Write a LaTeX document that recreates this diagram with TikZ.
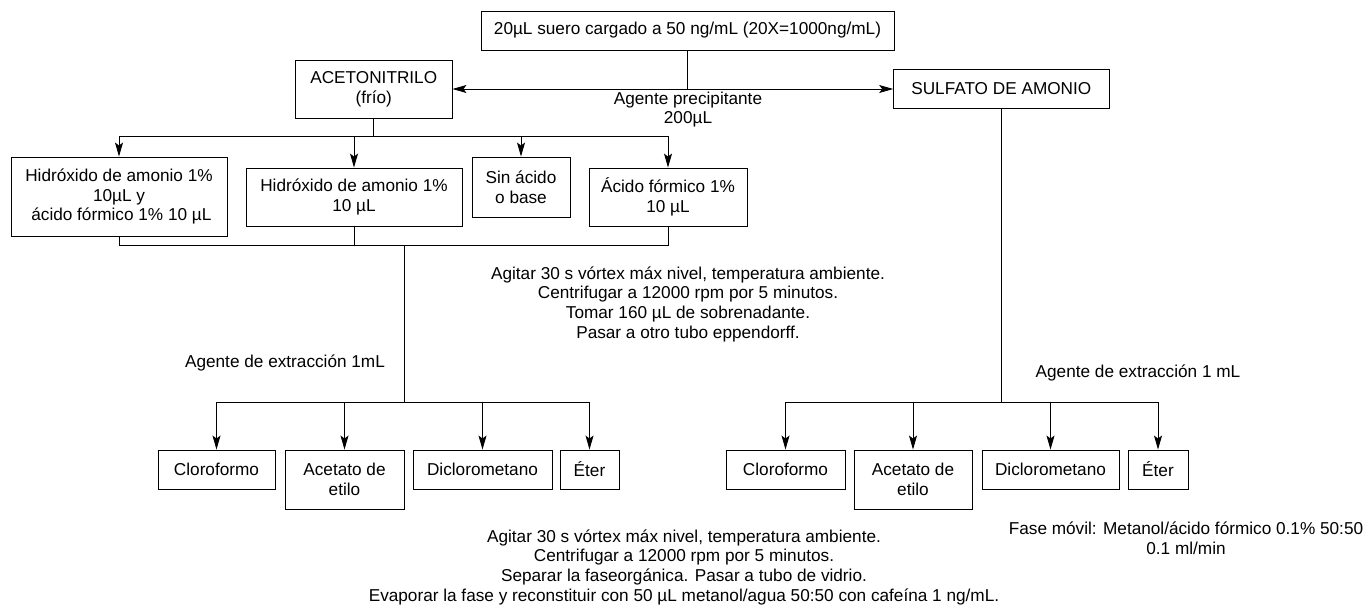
\documentclass[tikz,border=0pt]{standalone}
\usepackage{fontspec}
\setmainfont{Liberation Sans}
\usetikzlibrary{arrows.meta}
\begin{document}
\begin{tikzpicture}[x=1pt,y=-1pt,
  every node/.style={font=\fontsize{17.2}{19.7}\selectfont, inner sep=0pt, align=center},
  box/.style={draw, line width=0.9pt},
  conn/.style={line width=0.9pt},
  arr/.style={conn, -{Stealth[length=14pt,width=8pt,inset=3pt]}},
  darr/.style={conn, {Stealth[length=14pt,width=8pt,inset=3pt]}-{Stealth[length=14pt,width=8pt,inset=3pt]}}]
\useasboundingbox (0,0) rectangle (1368,605);

% top level
\node[box, minimum width=413, minimum height=39] (top) at (687.5,30.5) {20µL suero cargado a 50 ng/mL (20X=1000ng/mL)};
\node[box, minimum width=156.5, minimum height=58] (acn) at (373.75,89) {ACETONITRILO\\(frío)};
\node[box, minimum width=215.4, minimum height=39] (sulf) at (1001.3,89) {SULFATO DE AMONIO};
\node (prec) at (688,109.5) {Agente precipitante\\200µL};

\coordinate (t1) at (687.5,89);
\draw[conn] (top.south) -- (t1);
\draw[darr] (acn.east) -- (sulf.west);

% additive boxes
\node[box, minimum width=216, minimum height=79] (b1) at (119,196.5) {Hidróxido de amonio 1\%\\10µL y\\ \ ácido fórmico 1\% 10 µL};
\node[box, minimum width=216, minimum height=58] (b2) at (354,197) {Hidróxido de amonio 1\%\\10 µL};
\node[box, minimum width=98, minimum height=60] (b3) at (521,187) {Sin ácido\\o base};
\node[box, minimum width=158, minimum height=58] (b4) at (668,197) {Ácido fórmico 1\%\\10 µL};

\coordinate (j1) at (373.75,136);
\draw[conn] (acn.south) -- (j1);
\draw[conn] (b1.north |- j1) -- (b4.north |- j1);
\foreach \b in {b1,b2,b3,b4} \draw[arr] (\b.north |- j1) -- (\b.north);

\coordinate (m) at (404,245);
\draw[conn] (b1.south) -- (b1.south |- m) -- (b4.south |- m) -- (b4.south);
\draw[conn] (b2.south) -- (b2.south |- m);

\node (mid) at (688,304) {Agitar 30 s vórtex máx nivel, temperatura ambiente.\\Centrifugar a 12000 rpm por 5 minutos.\\Tomar 160 µL de sobrenadante.\\Pasar a otro tubo eppendorff.};

% left extraction
\node[box, minimum width=117, minimum height=39] (c1) at (216.5,469.5) {Cloroformo};
\node[box, minimum width=119, minimum height=59] (c2) at (344.5,479.5) {Acetato de\\etilo};
\node[box, minimum width=139, minimum height=39] (c3) at (482.5,469.5) {Diclorometano};
\node[box, minimum width=59, minimum height=39] (c4) at (589.5,469.5) {Éter};
\node (extL) at (285,363) {Agente de extracción 1mL};

\coordinate (j2) at (404,402);
\draw[conn] (m) -- (j2);
\draw[conn] (c1.north |- j2) -- (c4.north |- j2);
\foreach \c in {c1,c2,c3,c4} \draw[arr] (\c.north |- j2) -- (\c.north);

% right extraction
\node[box, minimum width=119, minimum height=39] (d1) at (785.5,469.5) {Cloroformo};
\node[box, minimum width=118, minimum height=59] (d2) at (913,479.5) {Acetato de\\etilo};
\node[box, minimum width=137, minimum height=39] (d3) at (1050.5,469.5) {Diclorometano};
\node[box, minimum width=60, minimum height=39] (d4) at (1158,469.5) {Éter};
\node (extR) at (1138,373) {Agente de extracción 1 mL};

\coordinate (j3) at (1001.3,402);
\draw[conn] (sulf.south) -- (j3);
\draw[conn] (d1.north |- j3) -- (d4.north |- j3);
\foreach \d in {d1,d2,d3,d4} \draw[arr] (\d.north |- j3) -- (\d.north);

% bottom texts
\node (bot) at (684,567) {Agitar 30 s vórtex máx nivel, temperatura ambiente.\\Centrifugar a 12000 rpm por 5 minutos.\\Separar la faseorgánica. Pasar a tubo de vidrio.\\Evaporar la fase y reconstituir con 50 µL metanol/agua 50:50 con cafeína 1 ng/mL.};
\node (fase) at (1186,538) {Fase móvil: Metanol/ácido fórmico 0.1\% 50:50\\0.1 ml/min};
\end{tikzpicture}
\end{document}
